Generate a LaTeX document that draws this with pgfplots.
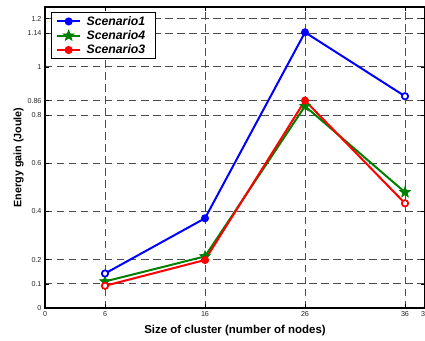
\documentclass[border=0pt]{standalone}
\usepackage{fontspec}
\setmainfont{Liberation Sans}
\usepackage{pgfplots}
\pgfplotsset{compat=1.18}
\definecolor{mgreen}{rgb}{0,0.5,0}
\pgfdeclareplotmark{pstar}{%
  \pgfpathmoveto{\pgfpointpolar{90}{\pgfplotmarksize}}%
  \pgfpathlineto{\pgfpointpolar{126}{0.42\pgfplotmarksize}}%
  \pgfpathlineto{\pgfpointpolar{162}{\pgfplotmarksize}}%
  \pgfpathlineto{\pgfpointpolar{198}{0.42\pgfplotmarksize}}%
  \pgfpathlineto{\pgfpointpolar{234}{\pgfplotmarksize}}%
  \pgfpathlineto{\pgfpointpolar{270}{0.42\pgfplotmarksize}}%
  \pgfpathlineto{\pgfpointpolar{306}{\pgfplotmarksize}}%
  \pgfpathlineto{\pgfpointpolar{342}{0.42\pgfplotmarksize}}%
  \pgfpathlineto{\pgfpointpolar{18}{\pgfplotmarksize}}%
  \pgfpathlineto{\pgfpointpolar{54}{0.42\pgfplotmarksize}}%
  \pgfpathclose
  \pgfusepathqfillstroke}
\begin{document}
\begin{tikzpicture}
\begin{axis}[
  scale only axis, width=380bp, height=301bp,
  xmin=0, xmax=38, ymin=0, ymax=1.248,
  xtick={0,6,16,26,36,38},
  xticklabels={0,6,16,26,36,38},
  ytick={0,0.1,0.2,0.4,0.6,0.8,0.86,1,1.14,1.2},
  yticklabels={0,0.1,0.2,0.4,0.6,0.8,0.86,1,1.14,1.2},
  grid=major,
  grid style={black!70, dash pattern=on 7.5bp off 4.5bp, line width=0.8bp},
  tick align=inside, major tick length=4bp,
  tick style={black, line width=0.6bp},
  ticklabel style={font=\fontsize{7.2}{8}\selectfont, text=black!85},
  /pgf/number format/assume math mode=true,
  xlabel={Size of cluster (number of nodes)},
  ylabel={Energy gain (Joule)},
  xlabel style={font=\bfseries\fontsize{11.5}{13}\selectfont, yshift=-2bp},
  ylabel style={font=\bfseries\fontsize{10.8}{13}\selectfont, yshift=-3bp},
  axis line style={line width=1.1bp},
  legend style={at={(0.015,0.983)}, anchor=north west, draw=black, line width=0.9bp,
    font=\bfseries\itshape\fontsize{12.3}{14}\selectfont, inner xsep=5bp, inner ysep=2.5bp,
    row sep=1.5bp, nodes={inner xsep=5.5bp, inner ysep=1.2bp}},
  legend cell align=left,
  legend image code/.code={\draw[#1] (0bp,0bp) -- (23bp,0bp); \draw[#1,mark repeat=2,mark phase=2] plot coordinates {(0bp,0bp) (11.5bp,0bp) (23bp,0bp)};},
]
\addplot[blue, line width=2bp, mark=*, mark size=3bp, mark options={solid}]
  coordinates {(6,0.143) (16,0.372) (26,1.143) (36,0.878)};
\addlegendentry{Scenario1}
\addplot[mgreen, line width=2bp, mark=pstar, mark size=5.5bp, mark options={solid, fill=mgreen, line width=0.8bp}]
  coordinates {(6,0.11) (16,0.214) (26,0.837) (36,0.48)};
\addlegendentry{Scenario4}
\addplot[red, line width=2bp, mark=*, mark size=3bp, mark options={solid}]
  coordinates {(6,0.092) (16,0.199) (26,0.86) (36,0.434)};
\addlegendentry{Scenario3}
\addplot[blue, only marks, mark=*, mark size=3bp, mark options={fill=white, line width=1.4bp}, forget plot]
  coordinates {(6,0.143) (36,0.878)};
\addplot[red, only marks, mark=*, mark size=3bp, mark options={fill=white, line width=1.4bp}, forget plot]
  coordinates {(6,0.092) (36,0.434)};
\end{axis}
\pgfresetboundingbox
\path ([xshift=-45bp,yshift=-33bp]current axis.south west) rectangle ([yshift=7bp]current axis.north east);
\end{tikzpicture}
\end{document}
